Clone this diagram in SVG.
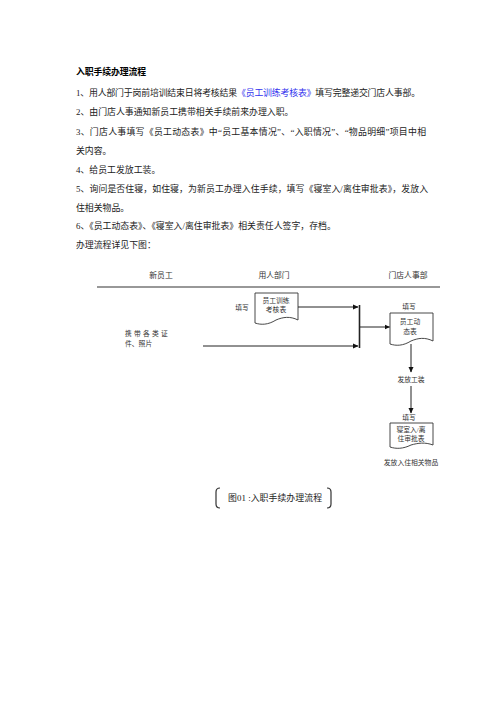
<svg xmlns="http://www.w3.org/2000/svg" width="496" height="702" viewBox="0 0 496 702">
<defs>
<style>
.t{font-family:"Liberation Serif","Noto Sans CJK SC",serif;font-size:8.9px;fill:#222}
.b{font-weight:bold;fill:#000}
.h{font-family:"Liberation Serif","Noto Sans CJK SC",serif;font-size:7.8px;fill:#333;text-anchor:middle}
.s{font-family:"Liberation Serif","Noto Sans CJK SC",serif;font-size:6.8px;fill:#333;text-anchor:middle}
.sl{font-family:"Liberation Serif","Noto Sans CJK SC",serif;font-size:6.8px;fill:#333;text-anchor:start}
.doc{fill:#fff;stroke:#333;stroke-width:0.9}
.ln{stroke:#222;stroke-width:1;fill:none}
</style>
<marker id="ar" markerWidth="6" markerHeight="6" refX="5" refY="3" orient="auto" markerUnits="userSpaceOnUse">
<path d="M0,0.5 L5.5,3 L0,5.5 Z" fill="#111"/>
</marker>
</defs>
<rect width="496" height="702" fill="#fff"/>
<g id="text">
<text class="t b" x="76" y="75" textLength="70">入职手续办理流程</text>
<text class="t" x="76" y="96" textLength="344">1、用人部门于岗前培训结束日将考核结果<tspan fill="#3333ee">《员工训练考核表》</tspan>填写完整递交门店人事部。</text>
<text class="t" x="76" y="115">2、由门店人事通知新员工携带相关手续前来办理入职。</text>
<text class="t" x="76" y="135" textLength="350">3、门店人事填写《员工动态表》中“员工基本情况”、“入职情况”、“物品明细”项目中相</text>
<text class="t" x="76" y="154">关内容。</text>
<text class="t" x="76" y="173">4、给员工发放工装。</text>
<text class="t" x="76" y="192" textLength="352">5、询问是否住寝，如住寝，为新员工办理入住手续，填写《寝室入/离住审批表》，发放入</text>
<text class="t" x="76" y="211">住相关物品。</text>
<text class="t" x="76" y="229">6、《员工动态表》、《寝室入/离住审批表》相关责任人签字，存档。</text>
<text class="t" x="76" y="248">办理流程详见下图：</text>
</g>
<g id="headers">
<text class="h" x="161" y="278">新员工</text>
<text class="h" x="274" y="278">用人部门</text>
<text class="h" x="408" y="278">门店人事部</text>
<line x1="97" y1="287" x2="440" y2="287" stroke="#333" stroke-width="1.2"/>
</g>
<g id="node-training">
<text class="s" x="242" y="310">填写</text>
<path class="doc" d="M255,293 H298 V320 C290,316 283,317 276,320 C268,325 261,325 255,323 Z"/>
<text class="s" x="276" y="302.5">员工训练</text>
<text class="s" x="276" y="312">考核表</text>
</g>
<g id="node-docs">
<text class="sl" x="125" y="336" letter-spacing="2.2">携带各类证</text>
<text class="sl" x="125" y="346">件、照片</text>
</g>
<g id="node-dynamic">
<text class="s" x="409" y="309">填写</text>
<path class="doc" d="M390,313 H433 V341 C425,337 418,338 411,341 C403,346 396,346 390,344 Z"/>
<text class="s" x="410" y="324">员工动</text>
<text class="s" x="410" y="334">态表</text>
</g>
<g id="node-uniform">
<text class="s" x="411" y="382">发放工装</text>
</g>
<g id="node-dorm">
<text class="s" x="409" y="420">填写</text>
<path class="doc" d="M390,423 H433 V445 C425,442 418,443 411,445 C403,449 396,449 390,447 Z"/>
<text class="s" x="411" y="431.5">寝室入/离</text>
<text class="s" x="411" y="440.5">住审批表</text>
<text class="s" x="411" y="465">发放入住相关物品</text>
</g>
<g id="connectors">
<line class="ln" x1="298" y1="307" x2="358" y2="307" marker-end="url(#ar)"/>
<line class="ln" x1="203" y1="346" x2="358" y2="346" marker-end="url(#ar)"/>
<line x1="359.5" y1="305" x2="359.5" y2="348" stroke="#222" stroke-width="1.6"/>
<line class="ln" x1="360" y1="327" x2="389.5" y2="327" marker-end="url(#ar)"/>
<line class="ln" x1="411" y1="344" x2="411" y2="372" marker-end="url(#ar)"/>
<line class="ln" x1="411" y1="386" x2="411" y2="413" marker-end="url(#ar)"/>
</g>
<g id="caption">
<path d="M220,488 Q216,488 216,492 V504 Q216,508 220,508" fill="none" stroke="#333" stroke-width="1.2"/>
<path d="M327,488 Q331,488 331,492 V504 Q331,508 327,508" fill="none" stroke="#333" stroke-width="1.2"/>
<text class="t" x="228" y="501" font-size="8" textLength="94">图01 :入职手续办理流程</text>
</g>
</svg>
